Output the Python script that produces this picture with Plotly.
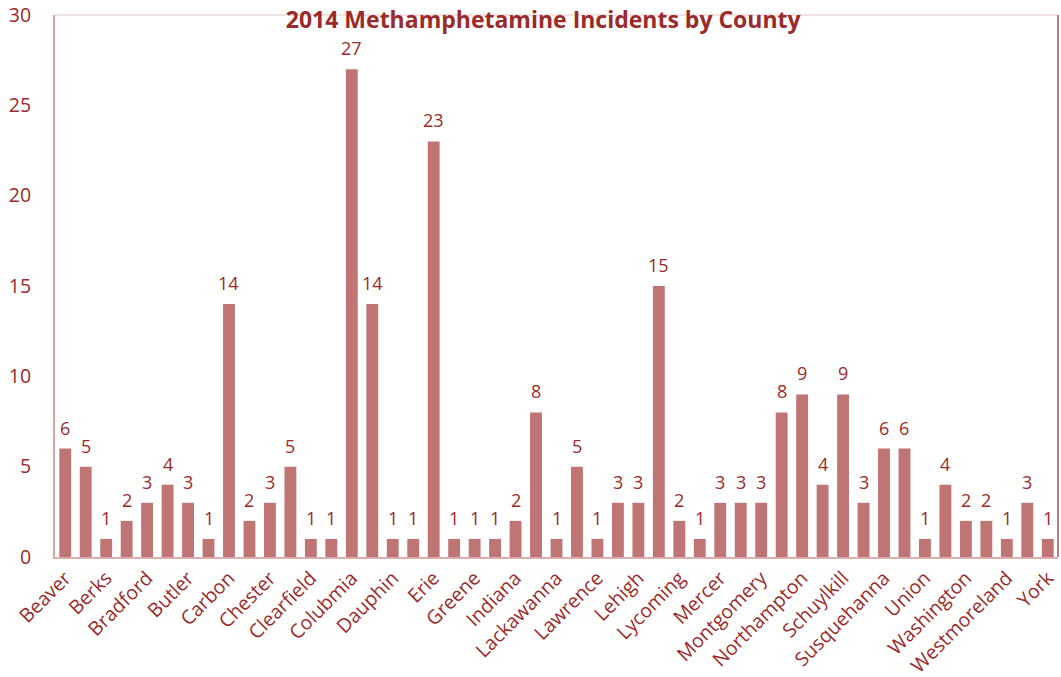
import plotly.graph_objects as go

counties = ["Beaver", "Bedford", "Berks", "Blair", "Bradford", "Bucks", "Butler", "Cambria",
            "Carbon", "Centre", "Chester", "Clarion", "Clearfield", "Clinton", "Colubmia",
            "Cumberland", "Dauphin", "Delaware", "Erie", "Fayette", "Greene", "Huntingdon",
            "Indiana", "Jefferson", "Lackawanna", "Lancaster", "Lawrence", "Lebanon", "Lehigh",
            "Luzerne", "Lycoming", "McKean", "Mercer", "Monroe", "Montgomery", "Montour",
            "Northampton", "Northumberland", "Schuylkill", "Somerset", "Susquehanna", "Tioga",
            "Union", "Venango", "Washington", "Wayne", "Westmoreland", "Wyoming", "York"]
incidents = [6, 5, 1, 2, 3, 4, 3, 1, 14, 2, 3, 5, 1, 1, 27, 14, 1, 1, 23, 1, 1, 1, 2, 8, 1,
             5, 1, 3, 3, 15, 2, 1, 3, 3, 3, 8, 9, 4, 9, 3, 6, 6, 1, 4, 2, 2, 1, 3, 1]
shown_labels = counties[::2]
y_ticks = [0, 5, 10, 15, 20, 25, 30]

BAR = "#bf7574"
TXT = "#9b2a2a"
FONT = "Open Sans"

fig = go.Figure(go.Bar(
    x=counties, y=incidents, marker_color=BAR, marker_line_width=0,
))

for c, v in zip(counties, incidents):
    fig.add_annotation(x=c, y=v, text=str(v), showarrow=False, yanchor="bottom",
                       yshift=8, borderpad=0,
                       font=dict(color=TXT, size=18, family=FONT))

fig.update_layout(
    width=1061, height=677,
    margin=dict(l=55, r=3, t=15, b=120, autoexpand=False),
    paper_bgcolor="white", plot_bgcolor="white",
    bargap=0.42,
    showlegend=False,
    title=dict(text="<b>2014 Methamphetamine Incidents by County</b>",
               x=0.512, xanchor="center", y=0.9705, yanchor="middle",
               font=dict(family=FONT, size=23, color=TXT)),
    xaxis=dict(type="category", tickmode="array", tickvals=shown_labels, ticktext=shown_labels,
               tickangle=-45, tickfont=dict(family=FONT, size=19.5, color=TXT),
               showline=True, linecolor="#dcaeae", linewidth=2, mirror=False,
               ticks="", showgrid=False, automargin=False),
    yaxis=dict(range=[0, 30], tickvals=y_ticks, showgrid=False, zeroline=False,
               tickfont=dict(family=FONT, size=19.5, color=TXT),
               showline=True, linecolor="#dba4a4", linewidth=2, ticks="",
               ticklabelstandoff=18, automargin=False),
    shapes=[
        dict(type="line", xref="paper", yref="paper", x0=0, x1=1, y0=1, y1=1,
             line=dict(color="#f1e3e3", width=2)),
        dict(type="line", xref="paper", yref="paper", x0=1, x1=1, y0=0, y1=1,
             line=dict(color="#c27e7e", width=2)),
    ],
)

fig.write_html("out.html", config={"displayModeBar": False},
               post_script="document.body.style.margin='0';document.body.style.overflow='hidden';")
